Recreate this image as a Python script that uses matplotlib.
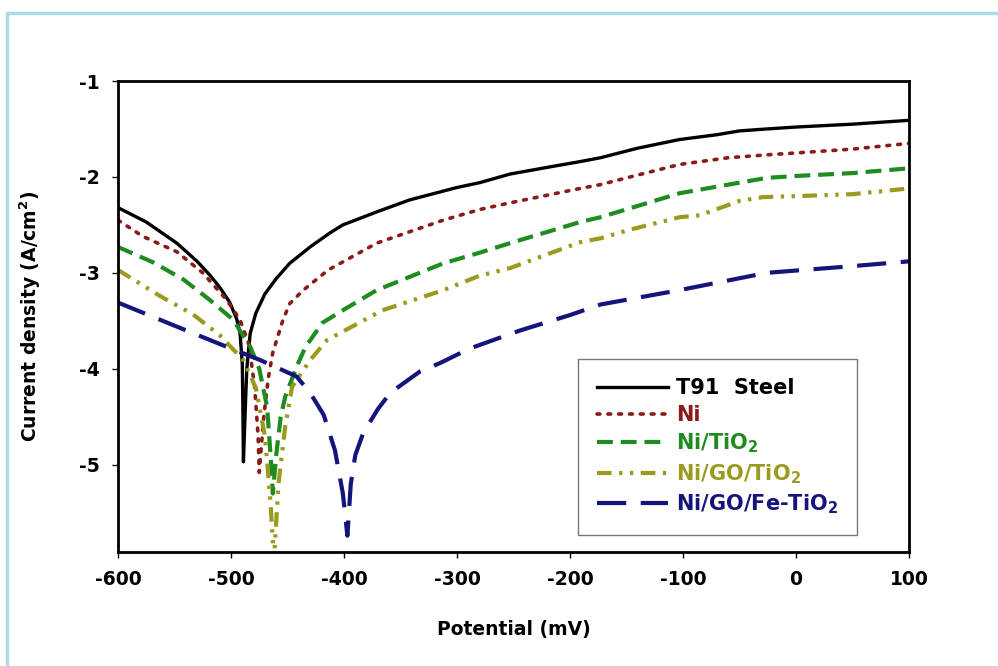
import numpy as np
import matplotlib
matplotlib.use("Agg")
import matplotlib.pyplot as plt
from matplotlib.patches import Rectangle

plt.rcParams['font.family'] = ['DejaVu Sans']
plt.rcParams['font.weight'] = 'bold'
plt.rcParams['mathtext.default'] = 'bf'
plt.rcParams['axes.unicode_minus'] = False

# Potentiodynamic polarisation curves
# (potential in mV, log current density in A/cm2)
t91_x = [-600, -575, -548, -530, -519, -510, -501, -495, -492, -490, -489.5, -489,
         -487, -486, -483, -478, -470, -460, -448, -430, -412, -401, -370, -342,
         -300, -280, -253, -220, -191, -173, -140, -103, -70, -50, -26, 0, 50, 100]
t91_y = [-2.32, -2.47, -2.69, -2.88, -3.02, -3.15, -3.31, -3.48, -3.63, -3.95, -4.4, -4.97,
         -4.3, -4.0, -3.63, -3.42, -3.22, -3.06, -2.90, -2.73, -2.58, -2.50, -2.36, -2.24,
         -2.11, -2.06, -1.97, -1.90, -1.84, -1.80, -1.70, -1.61, -1.56, -1.52, -1.50, -1.48, -1.45, -1.41]

ni_x = [-600, -578, -548, -525, -504, -492, -484, -479, -476, -475, -471, -467, -463,
        -454, -448, -436, -414, -371, -312, -280, -253, -191, -173, -140, -103, -60,
        -26, 0, 50, 100]
ni_y = [-2.45, -2.62, -2.78, -3.00, -3.28, -3.49, -3.75, -4.2, -4.7, -5.08, -4.5, -4.1, -3.83,
        -3.49, -3.32, -3.18, -2.97, -2.69, -2.45, -2.34, -2.27, -2.12, -2.08, -1.98, -1.87, -1.80,
        -1.77, -1.75, -1.71, -1.65]

nitio2_x = [-600, -569, -542, -519, -498, -483, -475, -468, -465, -463, -460, -456, -452,
            -442, -434, -419, -401, -371, -312, -280, -253, -191, -173, -103, -26, 0, 50, 100]
nitio2_y = [-2.73, -2.89, -3.07, -3.28, -3.49, -3.77, -4.0, -4.4, -4.9, -5.3, -4.9, -4.5, -4.29,
            -3.98, -3.77, -3.52, -3.39, -3.18, -2.90, -2.79, -2.69, -2.47, -2.42, -2.17, -2.01, -1.99, -1.96, -1.91]

nigo_x = [-600, -563, -534, -510, -489, -478, -470, -465, -462, -458, -452, -446, -430,
          -415, -366, -312, -280, -253, -191, -173, -147, -103, -85, -50, -29, 0, 50, 100]
nigo_y = [-2.97, -3.24, -3.43, -3.65, -3.91, -4.2, -4.7, -5.4, -6.0, -5.2, -4.6, -4.19, -3.91,
          -3.70, -3.39, -3.18, -3.03, -2.95, -2.68, -2.64, -2.55, -2.42, -2.40, -2.25, -2.21, -2.20, -2.18, -2.12]

nigofe_x = [-600, -548, -504, -474, -442, -430, -418, -408, -401, -397, -394, -390, -383,
            -370, -359, -333, -315, -289, -244, -200, -173, -103, -26, 50, 100]
nigofe_y = [-3.31, -3.56, -3.77, -3.91, -4.08, -4.25, -4.48, -4.85, -5.3, -5.74, -5.2, -4.9, -4.67,
            -4.42, -4.25, -4.03, -3.94, -3.79, -3.60, -3.44, -3.33, -3.18, -3.00, -2.93, -2.88]

labels = ["T91  Steel", "Ni", "Ni/TiO$_2$", "Ni/GO/TiO$_2$", "Ni/GO/Fe-TiO$_2$"]

fig = plt.figure(figsize=(9.98, 6.66), dpi=100)
fig.patch.set_facecolor("white")
fig.patches.append(Rectangle((0.007, -0.05), 1.1, 0.05 + (666 - 13) / 666,
                             transform=fig.transFigure, fill=False,
                             edgecolor="#abdde6", linewidth=2.5))

ax = fig.add_axes([118 / 998, (666 - 552) / 666, 791 / 998, 471 / 666])

ax.plot(t91_x, t91_y, color="black", lw=2.4, label=labels[0])
ax.plot(ni_x, ni_y, color="#8b1a1a", lw=2.6, linestyle=(0, (0.8, 2.2)),
        dash_capstyle="round", label=labels[1])
ax.plot(nitio2_x, nitio2_y, color="#1e8c1e", lw=3.0, linestyle=(0, (3.8, 1.9)), label=labels[2])
ax.plot(nigo_x, nigo_y, color="#9a9a1e", lw=3.0,
        linestyle=(0, (3.5, 1.8, 0.8, 1.8, 0.8, 1.8)), label=labels[3])
ax.plot(nigofe_x, nigofe_y, color="#14147d", lw=3.0, linestyle=(0, (7, 3.5)), label=labels[4])

ax.set_xlim(-600, 100)
ax.set_ylim(-5.91, -1)
ax.set_xticks(np.arange(-600, 101, 100))
ax.set_yticks([-5, -4, -3, -2, -1])

for s in ax.spines.values():
    s.set_linewidth(2.0)
ax.tick_params(direction="out", length=4, width=1, labelsize=13.5, pad=9)
for lab in ax.get_xticklabels() + ax.get_yticklabels():
    lab.set_fontweight("bold")

ax.set_xlabel("Potential (mV)", fontsize=13.5, fontweight="bold", labelpad=22)
ax.set_ylabel("Current density (A/cm$^2$)", fontsize=13.5, fontweight="bold", labelpad=26)

leg = ax.legend(loc="lower left", bbox_to_anchor=(0.582, 0.036), borderaxespad=0,
                handlelength=3.4, handletextpad=0.4, labelspacing=0.33,
                borderpad=0.9, fancybox=False, labelcolor="linecolor",
                prop={"weight": "bold", "size": 15})
leg.get_frame().set_edgecolor("#555555")
leg.get_frame().set_linewidth(1.0)

plt.savefig("out.png", dpi=100)
